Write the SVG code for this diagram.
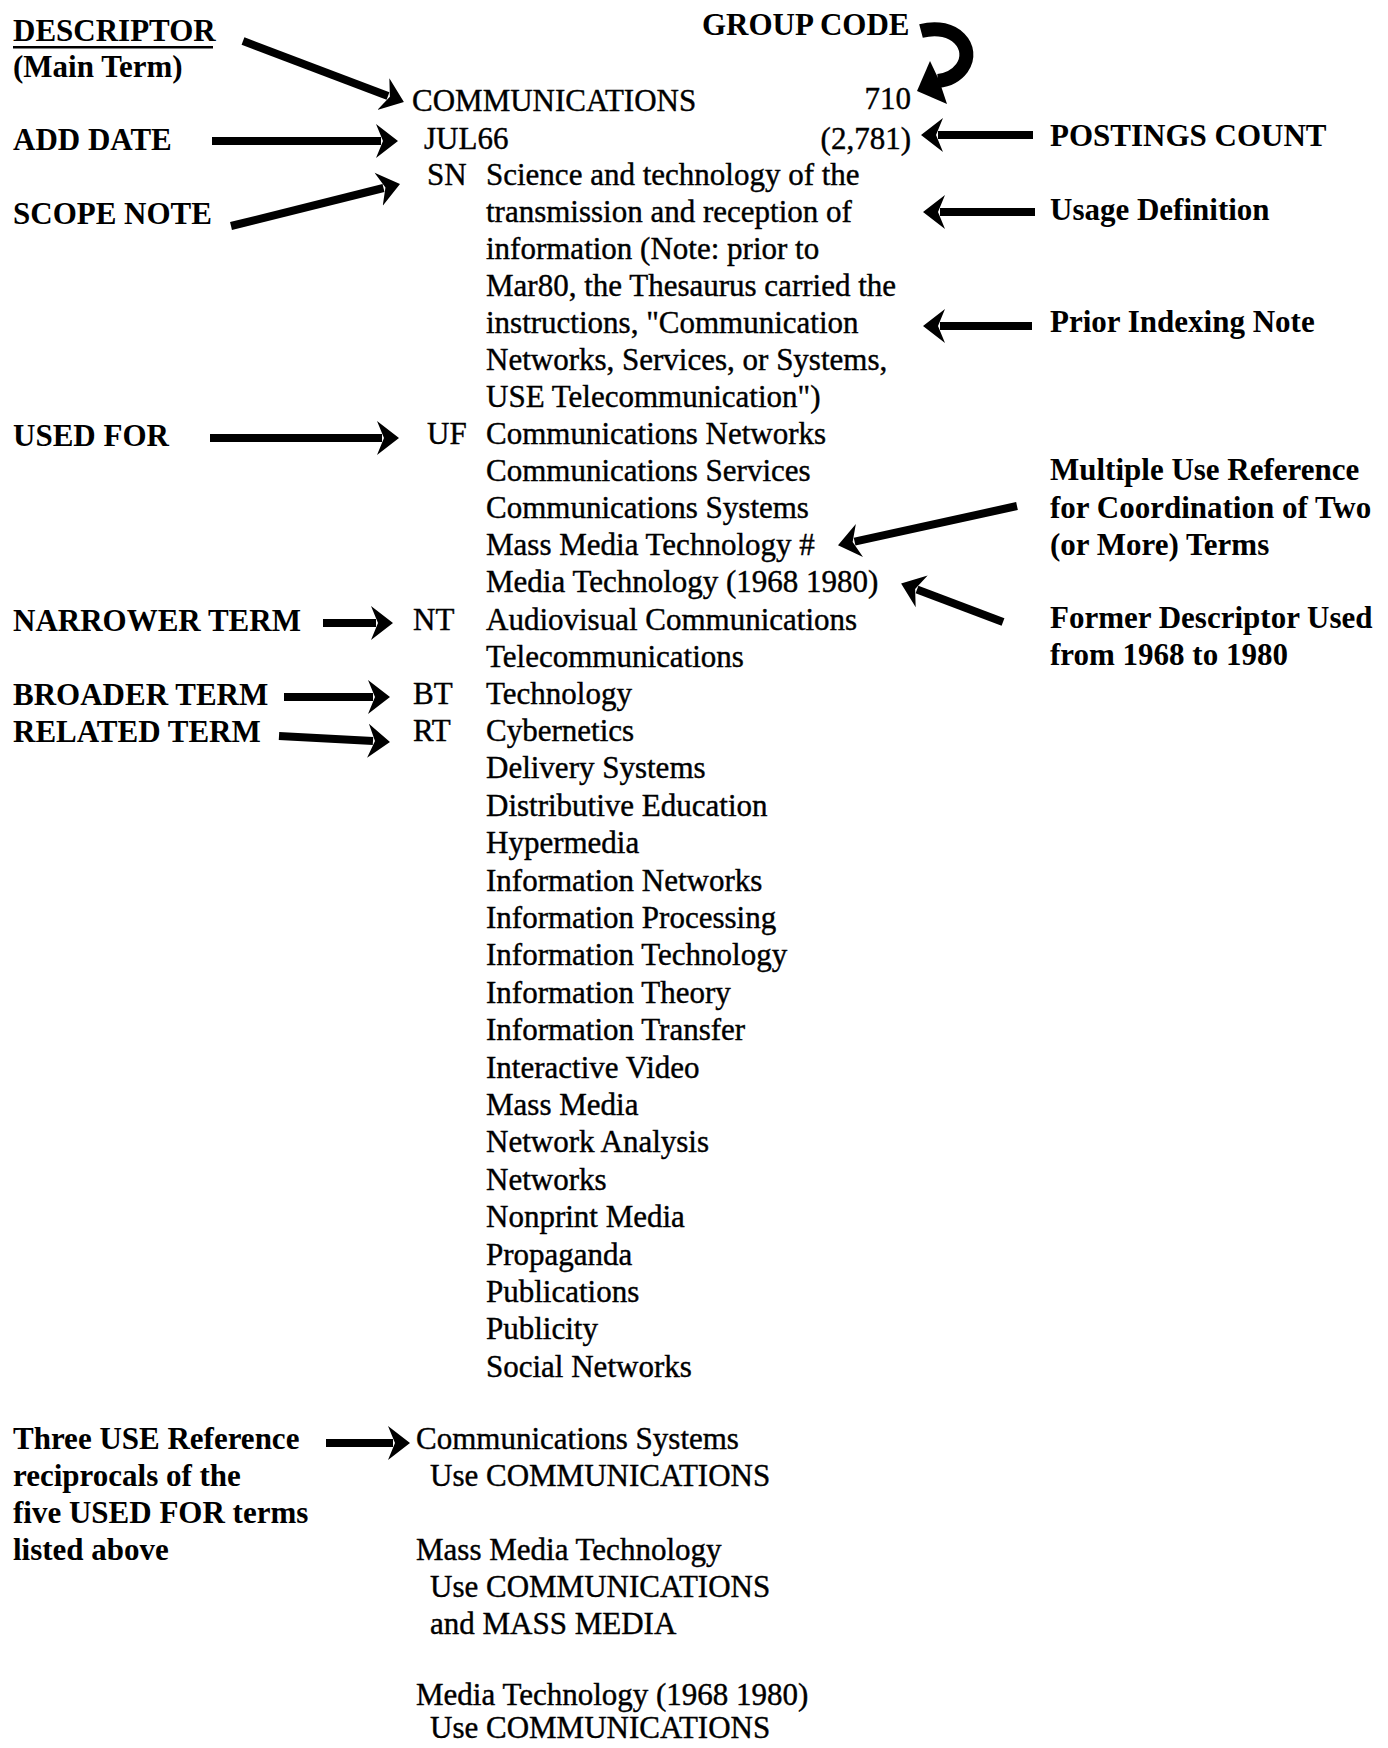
<svg xmlns="http://www.w3.org/2000/svg" width="1388" height="1748" viewBox="0 0 1388 1748">
<style>
text{font-family:"Liberation Serif","Times New Roman",serif;font-size:31px;fill:#000}
.b{font-weight:bold}
.r{stroke:#000;stroke-width:0.4}
.c{fill:none;stroke:#000;stroke-width:8}
</style>
<defs>
<marker id="ah" markerUnits="userSpaceOnUse" markerWidth="23" markerHeight="36" viewBox="0 -18 23 36" refX="5" refY="0" orient="auto">
<path d="M22,0 L0,-17 L7,0 L0,17 Z" fill="#000"/>
</marker>
</defs>
<rect width="1388" height="1748" fill="#fff"/>

<g id="descriptor-label">
<text class="b" x="13" y="41">DESCRIPTOR</text>
<rect x="13" y="46" width="200" height="2.5" fill="#000"/>
<text class="b" x="13" y="77">(Main Term)</text>
</g>
<g id="group-code-label"><text class="b" x="702" y="35">GROUP CODE</text></g>
<g id="add-date-label"><text class="b" x="13" y="150">ADD DATE</text></g>
<g id="scope-note-label"><text class="b" x="13" y="224">SCOPE NOTE</text></g>
<g id="used-for-label"><text class="b" x="13" y="446">USED FOR</text></g>
<g id="narrower-label"><text class="b" x="13" y="631">NARROWER TERM</text></g>
<g id="broader-label"><text class="b" x="13" y="705">BROADER TERM</text></g>
<g id="related-label"><text class="b" x="13" y="742">RELATED TERM</text></g>

<g id="postings-label"><text class="b" x="1050" y="146">POSTINGS COUNT</text></g>
<g id="usage-label"><text class="b" x="1050" y="220">Usage Definition</text></g>
<g id="prior-label"><text class="b" x="1050" y="332">Prior Indexing Note</text></g>
<g id="multiple-label">
<text class="b" x="1050" y="480">Multiple Use Reference</text>
<text class="b" x="1050" y="518">for Coordination of Two</text>
<text class="b" x="1050" y="555">(or More) Terms</text>
</g>
<g id="former-label">
<text class="b" x="1050" y="628">Former Descriptor Used</text>
<text class="b" x="1050" y="665">from 1968 to 1980</text>
</g>

<g id="entry-head" class="r">
<text x="412" y="111">COMMUNICATIONS</text>
<text x="911" y="109" text-anchor="end">710</text>
<text x="424" y="149">JUL66</text>
<text x="911" y="149" text-anchor="end">(2,781)</text>
</g>
<g id="entry-sn" class="r">
<text x="427" y="185">SN</text>
<text x="486" y="185">Science and technology of the</text>
<text x="486" y="222">transmission and reception of</text>
<text x="486" y="259">information (Note: prior to</text>
<text x="486" y="296">Mar80, the Thesaurus carried the</text>
<text x="486" y="333">instructions, "Communication</text>
<text x="486" y="370">Networks, Services, or Systems,</text>
<text x="486" y="407">USE Telecommunication")</text>
</g>
<g id="entry-uf" class="r">
<text x="427" y="444">UF</text>
<text x="486" y="444">Communications Networks</text>
<text x="486" y="481">Communications Services</text>
<text x="486" y="518">Communications Systems</text>
<text x="486" y="555">Mass Media Technology #</text>
<text x="486" y="592">Media Technology (1968 1980)</text>
</g>
<g id="entry-nt" class="r">
<text x="413" y="630">NT</text>
<text x="486" y="630">Audiovisual Communications</text>
<text x="486" y="667">Telecommunications</text>
</g>
<g id="entry-bt" class="r">
<text x="413" y="704">BT</text>
<text x="486" y="704">Technology</text>
</g>
<g id="entry-rt" class="r">
<text x="413" y="741">RT</text>
<text x="486" y="741">Cybernetics</text>
<text x="486" y="778">Delivery Systems</text>
<text x="486" y="816">Distributive Education</text>
<text x="486" y="853">Hypermedia</text>
<text x="486" y="891">Information Networks</text>
<text x="486" y="928">Information Processing</text>
<text x="486" y="965">Information Technology</text>
<text x="486" y="1003">Information Theory</text>
<text x="486" y="1040">Information Transfer</text>
<text x="486" y="1078">Interactive Video</text>
<text x="486" y="1115">Mass Media</text>
<text x="486" y="1152">Network Analysis</text>
<text x="486" y="1190">Networks</text>
<text x="486" y="1227">Nonprint Media</text>
<text x="486" y="1265">Propaganda</text>
<text x="486" y="1302">Publications</text>
<text x="486" y="1339">Publicity</text>
<text x="486" y="1377">Social Networks</text>
</g>

<g id="use-reference-label">
<text class="b" x="13" y="1449">Three USE Reference</text>
<text class="b" x="13" y="1486">reciprocals of the</text>
<text class="b" x="13" y="1523">five USED FOR terms</text>
<text class="b" x="13" y="1560">listed above</text>
</g>
<g id="use-ref-1" class="r">
<text x="416" y="1449">Communications Systems</text>
<text x="430" y="1486">Use COMMUNICATIONS</text>
</g>
<g id="use-ref-2" class="r">
<text x="416" y="1560">Mass Media Technology</text>
<text x="430" y="1597">Use COMMUNICATIONS</text>
<text x="430" y="1634">and MASS MEDIA</text>
</g>
<g id="use-ref-3" class="r">
<text x="416" y="1705">Media Technology (1968 1980)</text>
<text x="430" y="1738">Use COMMUNICATIONS</text>
</g>

<g id="connectors">
<path class="c" d="M243,41 L388,96" marker-end="url(#ah)"/>
<path class="c" d="M212,141 L381,141" marker-end="url(#ah)"/>
<path class="c" d="M231,226 L383.5,188" marker-end="url(#ah)"/>
<path class="c" d="M1033,135 L938,135" marker-end="url(#ah)"/>
<path class="c" d="M1035,212 L940,212" marker-end="url(#ah)"/>
<path class="c" d="M1032,326 L940,326" marker-end="url(#ah)"/>
<path class="c" d="M210,438 L382,438" marker-end="url(#ah)"/>
<path class="c" d="M1017,506 L854.6,541.6" marker-end="url(#ah)"/>
<path class="c" d="M1003,622 L917,589.6" marker-end="url(#ah)"/>
<path class="c" d="M323,623 L376,623" marker-end="url(#ah)"/>
<path class="c" d="M284,697 L373,697" marker-end="url(#ah)"/>
<path class="c" d="M279,736 L373,741" marker-end="url(#ah)"/>
<path class="c" d="M326,1443 L393,1443" marker-end="url(#ah)"/>
<path d="M921,31 C955,22 976,48 962,68 C956,76 948,80 938,81" fill="none" stroke="#000" stroke-width="14"/>
<path d="M917,91 L930,61 L939,80 L947,104 Z" fill="#000"/>
</g>
</svg>
